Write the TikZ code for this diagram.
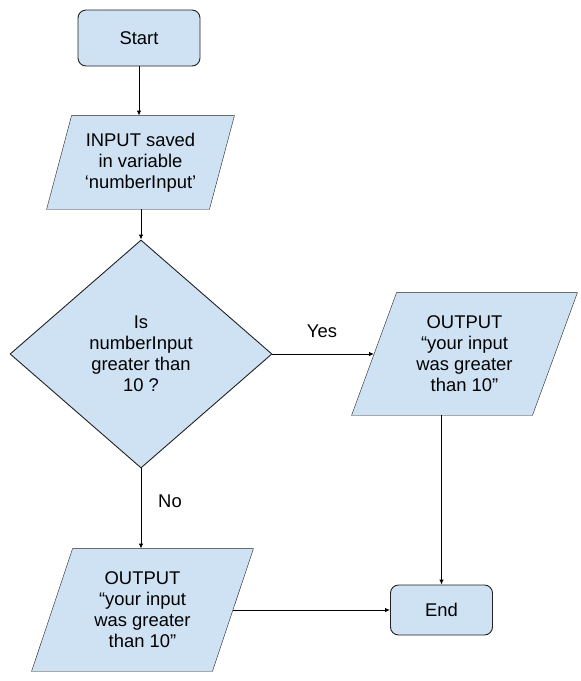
\documentclass[tikz,border=0pt]{standalone}
\usepackage{fontspec}
\setmainfont{Liberation Sans}
\usetikzlibrary{shapes.geometric,arrows.meta,backgrounds}
\definecolor{boxblue}{HTML}{CFE2F3}
\definecolor{linegray}{HTML}{222222}

\begin{document}
\begin{tikzpicture}[x=1pt, y=-1pt, line width=0.9pt, >={Latex[length=5pt,width=4.5pt]},
    every node/.style={font=\fontsize{18.4}{21}\selectfont, align=center, inner sep=0pt},
    terminal/.style={draw=linegray, fill=boxblue, rounded corners=8pt},
    inout/.style={draw=none},
    decision/.style={draw=linegray, fill=boxblue, diamond}]

        \useasboundingbox (0,0) rectangle (581,681);

        \node[terminal, minimum width=122pt, minimum height=56pt] (start) at (139,38) {Start};
        \node[inout, minimum width=162pt, minimum height=93pt] (input) at (140.5,162.5)
            {INPUT saved\\in variable\\‘numberInput’};
        \node[decision, minimum width=262pt, minimum height=228pt] (check) at (141,354)
            {Is\\numberInput\\greater than\\10 ?};
        \node[inout, minimum width=180pt, minimum height=122pt] (outyes) at (464.5,354)
            {OUTPUT\\“your input\\was greater\\than 10”};
        \node[inout, minimum width=180pt, minimum height=122pt] (outno) at (142.5,610)
            {OUTPUT\\“your input\\was greater\\than 10”};
        \node[terminal, minimum width=102pt, minimum height=50pt] (end) at (441.5,610) {End};

        % parallelograms behind the text
        \begin{scope}[on background layer]
            \foreach \n/\s in {input/12.5, outyes/22.5, outno/20.5}
                \filldraw[draw=linegray, fill=boxblue]
                    ([xshift=\s pt]\n.north west) -- ([xshift=\s pt]\n.north east)
                    -- ([xshift=-\s pt]\n.south east) -- ([xshift=-\s pt]\n.south west) -- cycle;
        \end{scope}

        \draw[->] (start.south) -- (start.south |- input.north);
        \draw[->] (input.south -| check.north) -- (check.north);
        \draw[->] (check) -- (outyes);
        \draw[->] (check.south) -- (check.south |- outno.north);
        \draw[->] (end.north |- outyes.south) -- (end.north);
        \draw[->] (outno) -- (end);

        \node (yes) at (322,331) {Yes};
        \node (no) at (170,501) {No};

    \end{tikzpicture}
\end{document}
